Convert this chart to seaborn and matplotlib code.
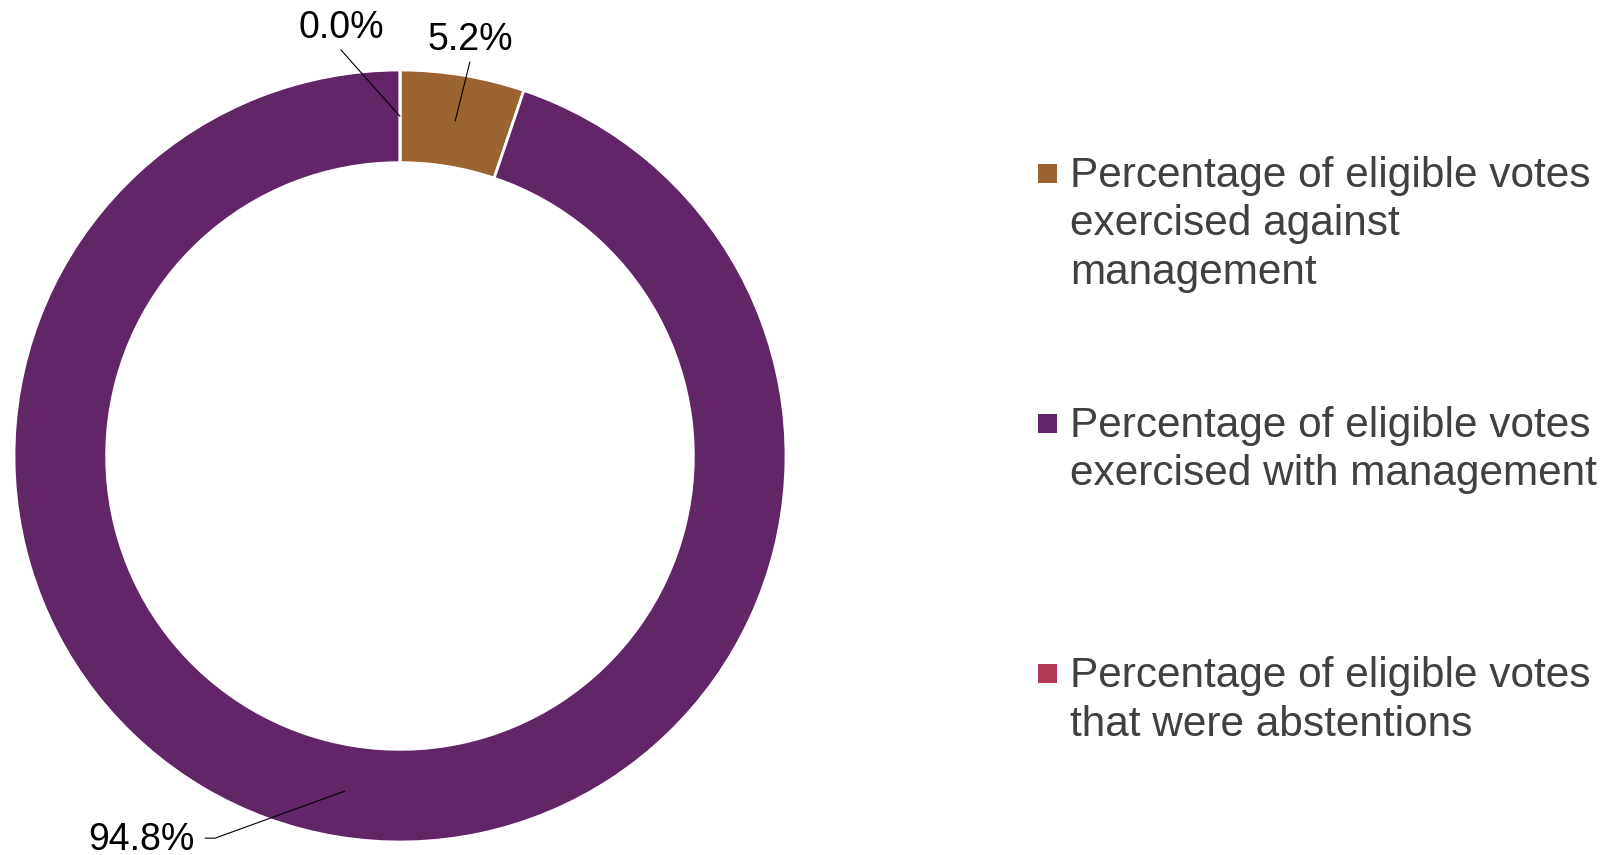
import numpy as np
import matplotlib
matplotlib.use("Agg")
import matplotlib.pyplot as plt
import matplotlib.patches as mpatches
import seaborn as sns

# ── data ───────────────────────────────────────────────
categories = [
    "Percentage of eligible votes\nexercised against\nmanagement",
    "Percentage of eligible votes\nexercised with management",
    "Percentage of eligible votes\nthat were abstentions",
]
shares = [5.2, 94.8, 0.0]
share_labels = ["5.2%", "94.8%", "0.0%"]
colors = ["#9C6430", "#622567", "#B03A55"]

# label placement (pie radius units) – layout only
label_pos = [(0.181, 1.052, "center"), (-0.531, -1.021, "right"), (-0.153, 1.083, "center")]

sns.set_theme(style="white")
plt.rcParams["font.family"] = ["Liberation Sans", "DejaVu Sans"]

W, H = 1615, 855
fig = plt.figure(figsize=(W / 100, H / 100), dpi=100)
fig.patch.set_facecolor("white")

# donut geometry in pixels
cx, cy, r = 400, 456, 386
ax = fig.add_axes([(cx - r) / W, (H - cy - r) / H, 2 * r / W, 2 * r / H])
ring = 0.24
wedges, _ = ax.pie(
    shares,
    colors=colors,
    startangle=90,
    counterclock=False,
    radius=1,
    wedgeprops=dict(width=ring, edgecolor="white", linewidth=2),
)
ax.set_xlim(-1, 1)
ax.set_ylim(-1, 1)
ax.set_aspect("equal")
ax.axis("off")

# data labels with leader lines
mid_r = 1 - ring / 2
for w, txt, (lx, ly, ha) in zip(wedges, share_labels, label_pos):
    ang = np.deg2rad((w.theta1 + w.theta2) / 2)
    px, py = mid_r * np.cos(ang), mid_r * np.sin(ang)
    ax.text(lx, ly, txt, ha=ha, va="baseline", fontsize=27, color="black", clip_on=False)
    if ly > 0:
        xs, ys = [lx, px], [ly - 0.031, py]
    else:
        xs, ys = [lx + 0.026, lx + 0.052, px], [ly + 0.031, ly + 0.031, py]
    ax.plot(xs, ys, color="black", lw=0.8, clip_on=False)

# legend drawn manually (entries evenly spaced like the original)
pitch = 48.5
for i, (cat, col) in enumerate(zip(categories, colors)):
    base = 187 + 250 * i
    for j, line in enumerate(cat.split("\n")):
        fig.text(1070 / W, 1 - (base + j * pitch) / H, line, fontsize=30.5,
                 color="#404040", va="baseline", ha="left")
    sq = 19
    fig.add_artist(mpatches.Rectangle(
        (1038 / W, 1 - (base - 13.5 + sq / 2) / H), sq / W, sq / H,
        transform=fig.transFigure, facecolor=col, edgecolor="none"))

fig.savefig("out.png", dpi=100)
